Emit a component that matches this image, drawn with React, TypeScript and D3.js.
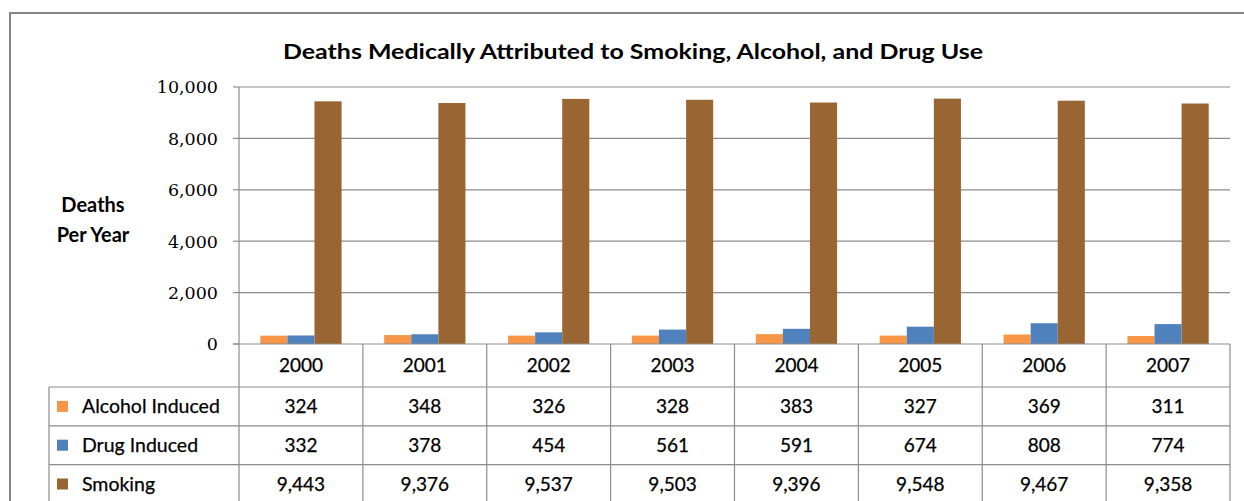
import React from "react";
import * as d3 from "d3";

const years = ["2000", "2001", "2002", "2003", "2004", "2005", "2006", "2007"];
const seriesNames = ["Alcohol Induced", "Drug Induced", "Smoking"];
const alcohol = [324, 348, 326, 328, 383, 327, 369, 311];
const drug = [332, 378, 454, 561, 591, 674, 808, 774];
const smoking = [9443, 9376, 9537, 9503, 9396, 9548, 9467, 9358];
const seriesColors = ["#F79646", "#4F81BD", "#996633"];
const yTicks = [0, 2000, 4000, 6000, 8000, 10000];

const W = 1244;
const H = 501;
const plotLeft = 239;
const plotRight = 1230;
const plotTop = 87;
const plotBottom = 344;
const tableLeft = 49;
const rowH = 38.8;

const sans = "Lato, 'Open Sans', sans-serif";
const serif = "'DejaVu Serif', serif";

export default function App() {
  const values = [alcohol, drug, smoking];
  const x = d3.scaleBand<string>().domain(years).range([plotLeft, plotRight]).padding(0);
  const bw = x.bandwidth();
  const inner = d3
    .scaleBand<number>()
    .domain([0, 1, 2])
    .range([bw * 0.172, bw * 0.828])
    .padding(0);
  const y = d3.scaleLinear().domain([0, 10000]).range([plotBottom, plotTop]);
  const fmt = d3.format(",");

  const headerBottom = plotBottom + 43;
  const rowTops = seriesNames.map((_, i) => headerBottom + i * rowH);
  const tableBottom = headerBottom + seriesNames.length * rowH;
  const gridColor = "#8c8c8c";
  const textStroke = { stroke: "#000", strokeWidth: 0.25 };

  return (
    <svg
      width={W}
      height={H}
      style={{ position: "absolute", left: 0, top: 0, background: "#fff" }}
    >
      {/* chart frame */}
      <path d={`M10,${H + 2} L10,13 L${W + 2},13`} fill="none" stroke="#858585" strokeWidth={2} />

      <text
        x={633}
        y={59}
        textAnchor="middle"
        fontFamily={sans}
        fontWeight={700}
        fontSize={21}
        textLength={700}
        lengthAdjust="spacingAndGlyphs"
        fill="#000"
      >
        Deaths Medically Attributed to Smoking, Alcohol, and Drug Use
      </text>

      {/* axis title */}
      <text x={93} y={212} textAnchor="middle" fontFamily={sans} fontWeight={700} fontSize={20}>
        Deaths
      </text>
      <text x={93} y={242} textAnchor="middle" fontFamily={sans} fontWeight={700} fontSize={20}>
        Per Year
      </text>

      {/* gridlines, ticks and tick labels */}
      {yTicks.map((t) => (
        <g key={t}>
          {t > 0 && (
            <line x1={plotLeft} x2={plotRight} y1={y(t)} y2={y(t)} stroke={gridColor} strokeWidth={1.2} />
          )}
          <line x1={plotLeft - 6} x2={plotLeft} y1={y(t)} y2={y(t)} stroke={gridColor} strokeWidth={1.2} />
          <text
            x={218}
            y={y(t)}
            dy="0.36em"
            textAnchor="end"
            fontFamily={serif}
            fontSize={17.5}
            fill="#000"
          >
            {fmt(t)}
          </text>
        </g>
      ))}

      {/* bars */}
      {years.map((yr, i) => (
        <g key={yr} transform={`translate(${x(yr)},0)`}>
          {values.map((vals, s) => (
            <rect
              key={s}
              x={inner(s)}
              y={y(vals[i])}
              width={inner.bandwidth()}
              height={plotBottom - y(vals[i])}
              fill={seriesColors[s]}
            />
          ))}
        </g>
      ))}

      {/* data table */}
      <g stroke={gridColor} strokeWidth={1.2} fill="none">
        <line x1={plotLeft - 6} x2={plotRight} y1={plotBottom} y2={plotBottom} />
        <line x1={plotLeft} x2={plotLeft} y1={plotTop} y2={tableBottom} />
        {years.map((yr) => (
          <line key={yr} x1={(x(yr) as number) + bw} x2={(x(yr) as number) + bw} y1={plotBottom} y2={tableBottom} />
        ))}
        <line x1={tableLeft} x2={tableLeft} y1={headerBottom} y2={tableBottom} />
        {rowTops.map((rt, i) => (
          <line key={i} x1={tableLeft} x2={plotRight} y1={rt} y2={rt} />
        ))}
        <line x1={tableLeft} x2={plotRight} y1={tableBottom} y2={tableBottom} />
      </g>

      {years.map((yr) => (
        <text
          key={yr}
          x={(x(yr) as number) + bw / 2}
          y={(plotBottom + headerBottom) / 2}
          dy="0.36em"
          textAnchor="middle"
          fontFamily={sans}
          fontSize={19}
          fill="#000"
          {...textStroke}
        >
          {yr}
        </text>
      ))}

      {seriesNames.map((name, s) => {
        const cy = rowTops[s] + rowH / 2;
        return (
          <g key={name}>
            <rect x={57} y={cy - 5.5} width={11} height={11} fill={seriesColors[s]} />
            <text x={82} y={cy} dy="0.36em" fontFamily={sans} fontSize={19.5} fill="#000" {...textStroke}>
              {name}
            </text>
            {years.map((yr, i) => (
              <text
                key={yr}
                x={(x(yr) as number) + bw / 2}
                y={cy}
                dy="0.36em"
                textAnchor="middle"
                fontFamily={sans}
                fontSize={19}
                fill="#000"
                {...textStroke}
              >
                {fmt(values[s][i])}
              </text>
            ))}
          </g>
        );
      })}
    </svg>
  );
}
